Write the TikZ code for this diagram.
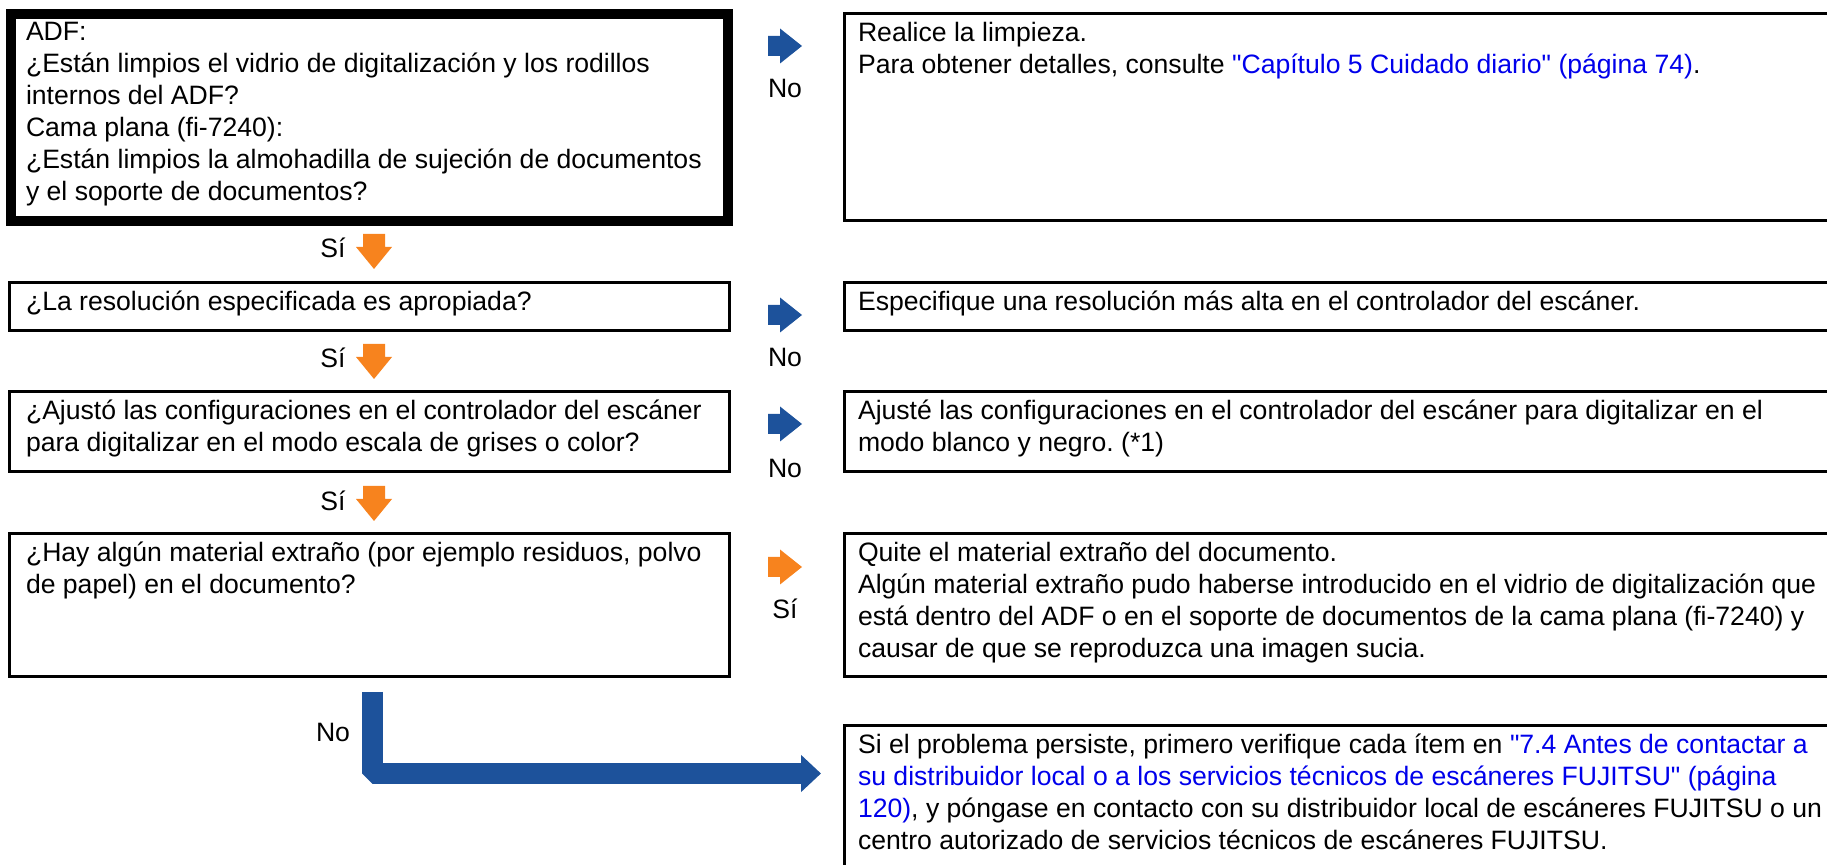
\documentclass[tikz,border=0pt]{standalone}
\usepackage{fontspec}
\setmainfont{Liberation Sans}[Ligatures=TeXOff]
\usetikzlibrary{arrows.meta}
\definecolor{flowblue}{RGB}{29,82,155}
\definecolor{floworange}{RGB}{247,131,30}
\definecolor{linkblue}{RGB}{0,0,235}
\newcommand{\lnk}[1]{\textcolor{linkblue}{#1}}
\frenchspacing
\tikzset{
  qbox/.style={draw, line width=1.5pt, anchor=north west, inner sep=0pt, outer sep=0pt, minimum width=360pt},
  abox/.style={draw, line width=1.5pt, anchor=north west, inner sep=0pt, outer sep=0pt, minimum width=510pt},
  txt/.style={anchor=north west, inner sep=0pt, outer sep=0pt, align=left, font=\fontsize{13.3}{16}\selectfont,
    execute at begin node={\rule{0pt}{10pt}}},
  lbl/.style={anchor=base, inner sep=0pt, font=\fontsize{13.3}{16}\selectfont},
  rarrow/.pic={\fill (0,-10) -- (12,-10) -- (12,-17.5) -- (34,0) -- (12,17.5) -- (12,10) -- (0,10) -- cycle;},
  darrow/.pic={\fill (-11,0) -- (11,0) -- (11,13) -- (18,13) -- (0,35) -- (-18,13) -- (-11,13) -- cycle;}
}
\begin{document}
\begin{tikzpicture}[x=0.5pt,y=-0.5pt]
\useasboundingbox (0,0) rectangle (1827,865);
\clip (0,0) rectangle (1827,865);
% questions
\node[qbox, line width=5pt, minimum width=358.5pt, minimum height=103.5pt] (q1) at (11,14) {};
\node[qbox, minimum height=24pt] (q2) at (9,283) {};
\node[qbox, minimum height=40pt] (q3) at (9,392) {};
\node[qbox, minimum height=71.5pt] (q4) at (9,534) {};
% answers
\node[abox, minimum height=103.5pt] (a1) at (844,14) {};
\node[abox, minimum height=24pt] (a2) at (844,283) {};
\node[abox, minimum height=40pt] (a3) at (844,392) {};
\node[abox, minimum height=71.5pt] (a4) at (844,534) {};
\node[abox, minimum height=100pt] (a5) at (844,726) {};
% texts
\node[txt] (q1t) at ([xshift=7.5pt,yshift=-4pt]q1.north west) {ADF:\\
  ¿Están limpios el vidrio de digitalización y los rodillos\\
  internos del ADF?\\
  Cama plana (fi-7240):\\
  ¿Están limpios la almohadilla de sujeción de documentos\\
  y el soporte de documentos?};
\node[txt] (q2t) at ([xshift=8.5pt,yshift=-4pt]q2.north west) {¿La resolución especificada es apropiada?};
\node[txt] (q3t) at ([xshift=8.5pt,yshift=-4pt]q3.north west) {¿Ajustó las configuraciones en el controlador del escáner\\
  para digitalizar en el modo escala de grises o color?};
\node[txt] (q4t) at ([xshift=8.5pt,yshift=-4pt]q4.north west) {¿Hay algún material extraño (por ejemplo residuos, polvo\\
  de papel) en el documento?};
\node[txt] (a1t) at ([xshift=7pt,yshift=-4pt]a1.north west) {Realice la limpieza.\\
  Para obtener detalles, consulte \lnk{"Capítulo 5 Cuidado diario" (página 74)}.};
\node[txt] (a2t) at ([xshift=7pt,yshift=-4pt]a2.north west) {Especifique una resolución más alta en el controlador del escáner.};
\node[txt] (a3t) at ([xshift=7pt,yshift=-4pt]a3.north west) {Ajusté las configuraciones en el controlador del escáner para digitalizar en el\\
  modo blanco y negro. (*1)};
\node[txt] (a4t) at ([xshift=7pt,yshift=-4pt]a4.north west) {Quite el material extraño del documento.\\
  Algún material extraño pudo haberse introducido en el vidrio de digitalización que\\
  está dentro del ADF o en el soporte de documentos de la cama plana (fi-7240) y\\
  causar de que se reproduzca una imagen sucia.};
\node[txt] (a5t) at ([xshift=7pt,yshift=-4pt]a5.north west) {Si el problema persiste, primero verifique cada ítem en \lnk{"7.4 Antes de contactar a}\\
  \lnk{su distribuidor local o a los servicios técnicos de escáneres FUJITSU" (página}\\
  \lnk{120)}, y póngase en contacto con su distribuidor local de escáneres FUJITSU o un\\
  centro autorizado de servicios técnicos de escáneres FUJITSU.};
% arrows between boxes
\pic[flowblue] at (768,46) {rarrow};
\pic[flowblue] at (768,315) {rarrow};
\pic[flowblue] at (768,424) {rarrow};
\pic[floworange] at (768,567) {rarrow};
\pic[floworange] at (374,234) {darrow};
\pic[floworange] at (374,344) {darrow};
\pic[floworange] at (374,486) {darrow};
% labels
\node[lbl] (no1) at (785,98) {No};
\node[lbl] (no2) at (785,367) {No};
\node[lbl] (no3) at (785,478) {No};
\node[lbl] (si4) at (785,619) {Sí};
\node[lbl] (si1) at (333,258) {Sí};
\node[lbl] (si2) at (333,368) {Sí};
\node[lbl] (si3) at (333,511) {Sí};
\node[lbl] (no4) at (333,741) {No};
% last branch
\coordinate (nostart) at (372,692);
\coordinate (noend) at (821,773.5);
\draw[flowblue, line width=10.5pt, line join=bevel, -{Triangle[width=18pt,length=10pt]}] (nostart) |- (noend);
\end{tikzpicture}
\end{document}
